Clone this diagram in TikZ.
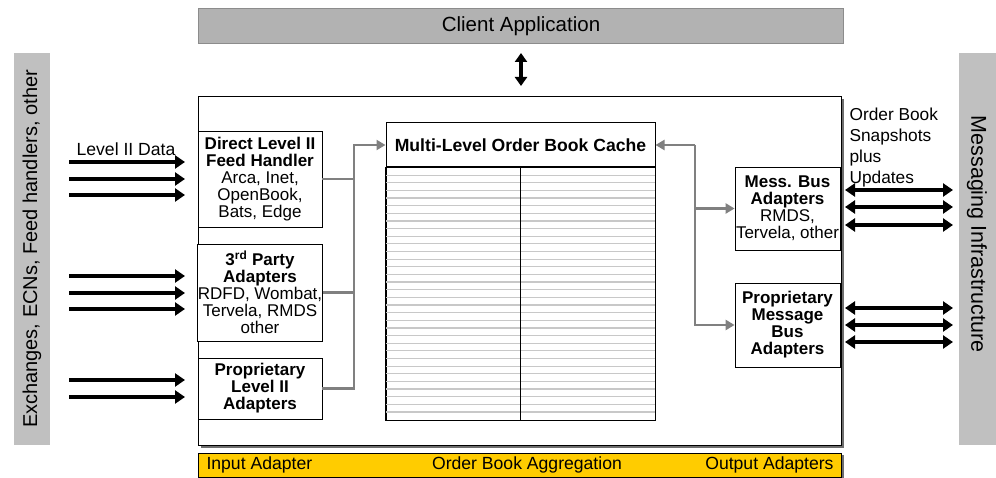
\documentclass[tikz,border=0pt]{standalone}
\usepackage{fontspec}
\setmainfont{Liberation Sans}
\usetikzlibrary{arrows.meta,positioning,calc}
\definecolor{barfill}{HTML}{B2B2B2}
\definecolor{barline}{HTML}{8C8C8C}
\definecolor{sidefill}{HTML}{C0C0C0}
\definecolor{conngray}{HTML}{808080}
\definecolor{shadowgray}{HTML}{6E6E6E}
\definecolor{rowgray}{HTML}{C8C8C8}
\definecolor{aggyellow}{HTML}{FFCC00}
\tikzset{
  txt/.style={font=\fontsize{17}{17}\selectfont},
  bigtxt/.style={font=\fontsize{17.6}{17}\selectfont},
  adapter/.style={draw=black, line width=0.8pt, fill=white, inner sep=0pt, align=center, txt},
  gline/.style={draw=conngray, line width=2.5pt},
  garrow/.style={gline, -{Triangle[length=9pt,width=10pt]}},
  barrow/.style={line width=4pt, -{Triangle[length=10pt,width=13pt]}},
  dbarrow/.style={line width=4pt, {Triangle[length=10pt,width=13pt]}-{Triangle[length=10pt,width=13pt]}},
}
\begin{document}
\begin{tikzpicture}[x=1pt,y=-1pt]
\useasboundingbox (0,0) rectangle (996,478);

% client application bar
\node[draw=barline, fill=barfill, line width=1.5pt, minimum width=645pt, minimum height=35pt, inner sep=0pt, font=\fontsize{20.5}{20}\selectfont] (client) at (521,26) {Client Application};
\coordinate (cu) at (521,53);
\coordinate (cd) at (521,86);
\draw[line width=4pt, {Triangle[length=9pt,width=12pt]}-{Triangle[length=9pt,width=12pt]}] (cu) -- (cd);

% side bars
\node[fill=sidefill, minimum width=36pt, minimum height=392pt, inner sep=0pt] (leftbar) at (32,249) {};
\node[rotate=90, font=\fontsize{20}{20}\selectfont] (lefttext) at (leftbar.center) {Exchanges, ECNs, Feed handlers, other};
\node[fill=sidefill, minimum width=37pt, minimum height=392pt, inner sep=0pt] (rightbar) at (977.5,249) {};
\node[rotate=-90, font=\fontsize{21.5}{21}\selectfont] (righttext) at (977,234) {Messaging Infrastructure};

% main box with shadow
\fill[shadowgray] (201,99) rectangle (844,448);
\node[draw=black, fill=white, line width=0.8pt, minimum width=643pt, minimum height=349pt, inner sep=0pt] (main) at (519.5,270.5) {};

% aggregation bar
\fill[shadowgray] (201,455) rectangle (844,479);
\node[draw=black, fill=aggyellow, line width=0.8pt, minimum width=643pt, minimum height=24pt, inner sep=0pt] (agg) at (519.5,465) {};
\node[bigtxt, anchor=west] (inad) at (203,465) {Input Adapter};
\node[bigtxt] (obagg) at (527,465) {Order Book Aggregation};
\node[bigtxt, anchor=east] (outad) at (837,465) {Output Adapters};

% input adapters
\node[adapter, minimum width=124pt, minimum height=96pt] (fh) at (260,179) {\textbf{Direct Level II}\\\textbf{Feed Handler}\\Arca, Inet,\\OpenBook,\\Bats, Edge};
\node[adapter, minimum width=124pt, minimum height=97pt] (tp) at (260,292.5) {\textbf{3\textsuperscript{rd} Party}\\\textbf{Adapters}\\RDFD, Wombat,\\Tervela, RMDS\\other};
\node[adapter, minimum width=124pt, minimum height=61pt] (pl) at (260,388.5) {\textbf{Proprietary}\\\textbf{Level II}\\\textbf{Adapters}};

% cache
\node[draw=black, fill=white, line width=1pt, minimum width=269pt, minimum height=44pt, inner sep=0pt, bigtxt] (cachehead) at (520.5,145) {\textbf{Multi-Level Order Book Cache}};
\node[draw=black, fill=white, line width=1pt, minimum width=269pt, minimum height=252pt, inner sep=0pt, anchor=north] (cachebody) at (cachehead.south) {};
\foreach \i in {1,...,32} {
  \draw[rowgray, line width=1.2pt] ($(cachebody.north west)+(0.8,\i*7.64)$) -- ($(cachebody.north east)+(-0.8,\i*7.64)$);
}
\draw[line width=1.5pt] (cachebody.north) -- (cachebody.south);
\draw[line width=1pt] (cachebody.north west) rectangle (cachebody.south east);

% output adapters
\node[adapter, minimum width=105pt, minimum height=83pt] (mba) at (787.5,208.5) {\textbf{Mess. Bus}\\\textbf{Adapters}\\RMDS,\\Tervela, other};
\node[adapter, minimum width=105pt, minimum height=84pt] (pmb) at (787.5,325) {\textbf{Proprietary}\\\textbf{Message}\\\textbf{Bus}\\\textbf{Adapters}};

% gray connectors left
\coordinate (jl) at (354,145);
\draw[gline] (fh.east) -- (fh.east -| jl);
\draw[gline] (tp.east) -- (tp.east -| jl);
\draw[garrow] (pl.east) -| (jl) -- (cachehead.west);

% gray connectors right
\coordinate (jr) at (695,145);
\draw[garrow] (jr) -- (cachehead.east);
\draw[garrow] (jr) |- (pmb.west);
\draw[garrow] (mba.west -| jr) -- (mba.west);

% left input arrows
\node[bigtxt] (l2data) at (126,149) {Level II Data};
\foreach \y/\n in {162/a1,179/a2,195/a3,276/a4,293/a5,309/a6,380/a7,397/a8} {
  \coordinate (\n s) at (69,\y);
  \coordinate (\n e) at (185,\y);
  \draw[barrow] (\n s) -- (\n e);
}

% right bidirectional arrows
\node[align=left, anchor=north west, font=\fontsize{17.3}{21}\selectfont] (obsnap) at (846,104) {Order Book\\Snapshots\\plus\\Updates};
\foreach \y/\n in {190/b1,207/b2,225/b3,308/b4,325/b5,342/b6} {
  \coordinate (\n s) at (845,\y);
  \coordinate (\n e) at (953,\y);
  \draw[dbarrow] (\n s) -- (\n e);
}
\end{tikzpicture}
\end{document}
